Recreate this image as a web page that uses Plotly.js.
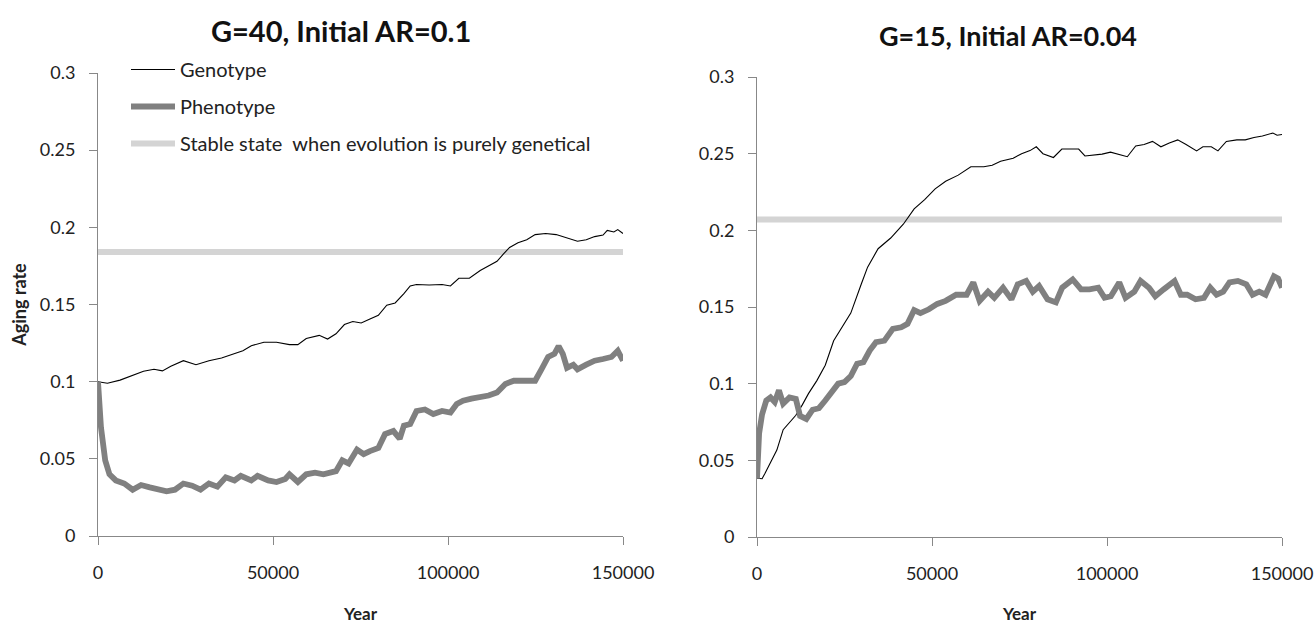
<!DOCTYPE html>
<html>
<head>
<meta charset="utf-8">
<script src="https://cdn.plot.ly/plotly-3.0.1.min.js"></script>
<style>html,body{margin:0;padding:0;background:#fff;}#chart{width:1315px;height:624px;}</style>
</head>
<body>
<div id="chart"></div>
<script>
// ---- Left panel: G=40, Initial AR=0.1 ----
const leftGenoX = [0,2700,6300,9900,13000,16000,18400,20800,24400,28000,31700,35300,39000,41400,43800,47400,51000,54700,57100,59500,63200,65600,68000,70400,72800,75200,77700,80100,82500,84900,87400,89200,91000,94600,98300,100700,103100,106100,109200,111600,114000,115800,117600,120000,122500,124900,127900,130900,134000,137000,139500,141900,144300,145500,147400,148500,150000];
const leftGenoY = [0.100,0.099,0.101,0.104,0.1067,0.108,0.107,0.110,0.1136,0.111,0.1136,0.1153,0.118,0.120,0.1233,0.1255,0.1255,0.124,0.124,0.128,0.130,0.1276,0.131,0.137,0.139,0.138,0.1406,0.143,0.1495,0.151,0.157,0.162,0.163,0.1626,0.163,0.162,0.167,0.167,0.172,0.175,0.178,0.1826,0.187,0.190,0.192,0.1953,0.196,0.1953,0.193,0.191,0.192,0.194,0.195,0.198,0.197,0.1985,0.196];

const leftPhenoX = [0,850,2060,3270,5080,7500,9900,12300,14800,17200,19600,22000,24400,26900,29300,31700,34100,36500,39000,40800,43800,45600,48600,51000,53500,54700,57100,59500,62000,64400,66800,68000,69800,71600,74000,75900,77700,80100,82000,84400,86200,87400,89200,91000,93400,95800,98300,100700,102500,104300,106700,109200,111600,114000,116400,118800,121900,124900,126700,128600,130400,131600,132800,134000,135800,137000,139500,141900,144300,146700,148500,150000];
const leftPhenoY = [0.100,0.0704,0.049,0.040,0.036,0.034,0.030,0.033,0.0315,0.030,0.029,0.030,0.034,0.0326,0.030,0.034,0.032,0.038,0.036,0.039,0.036,0.039,0.036,0.035,0.037,0.040,0.035,0.040,0.041,0.040,0.041,0.042,0.049,0.047,0.056,0.053,0.055,0.057,0.066,0.068,0.063,0.0715,0.0725,0.081,0.082,0.079,0.081,0.080,0.0855,0.0877,0.089,0.090,0.091,0.093,0.0985,0.1006,0.1006,0.1006,0.108,0.116,0.118,0.123,0.118,0.109,0.111,0.108,0.111,0.1136,0.1147,0.116,0.120,0.1136];

const stableX = [0,150000];
const leftStableY = [0.184,0.184];

// ---- Right panel: G=15, Initial AR=0.04 ----
const rightGenoX = [0,1450,2300,3860,5670,7480,9290,11100,12900,14700,17100,19500,21900,24400,26800,29800,31600,34600,38200,41800,44900,47900,50900,53900,57500,61100,64800,67200,69600,73200,75600,78000,79800,81700,84700,87100,90100,91900,93700,96100,98600,101000,103400,105800,108200,110600,113000,115400,117800,120200,122600,125600,127400,129800,131700,134100,137100,139500,142000,144400,147400,148600,150000];
const rightGenoY = [0.0383,0.038,0.0416,0.049,0.0567,0.070,0.075,0.0794,0.086,0.0935,0.102,0.112,0.128,0.137,0.146,0.165,0.176,0.188,0.195,0.204,0.214,0.220,0.227,0.232,0.236,0.2415,0.2415,0.2425,0.245,0.247,0.250,0.252,0.2545,0.250,0.2475,0.253,0.253,0.253,0.2485,0.249,0.2497,0.251,0.2497,0.248,0.255,0.256,0.258,0.2545,0.257,0.259,0.256,0.2518,0.2545,0.2545,0.2518,0.258,0.259,0.259,0.2605,0.2615,0.2635,0.262,0.2625];

const rightPhenoX = [0,600,1450,2650,3860,5070,6270,7480,9290,11100,12300,14100,15900,17700,19500,21300,23200,25000,26800,28600,30400,32200,34000,36400,38800,41200,43000,44900,46700,49100,51500,53900,56900,59900,61800,63600,66000,67800,70300,72700,74500,76900,78800,80600,83000,85400,87200,90200,92600,95000,97500,99300,101100,103500,105300,107800,109600,112000,113800,116200,119300,121100,122900,125300,127700,129500,131300,133200,135000,137400,139800,141600,143500,145300,147700,148900,150000];
const rightPhenoY = [0.038,0.0675,0.080,0.089,0.091,0.088,0.0957,0.087,0.091,0.090,0.079,0.077,0.083,0.084,0.089,0.0946,0.100,0.101,0.105,0.113,0.114,0.1216,0.127,0.128,0.1357,0.1368,0.139,0.148,0.146,0.1485,0.152,0.154,0.158,0.158,0.166,0.154,0.160,0.156,0.1626,0.155,0.1648,0.167,0.160,0.1637,0.155,0.153,0.1626,0.168,0.1615,0.1615,0.1626,0.156,0.157,0.166,0.156,0.160,0.167,0.1626,0.157,0.1615,0.167,0.158,0.158,0.155,0.156,0.1626,0.158,0.160,0.166,0.167,0.1648,0.158,0.160,0.158,0.170,0.1685,0.1626];
const rightStableY = [0.207,0.207];

const seriesNames = ['Genotype','Phenotype','Stable state  when evolution is purely genetical'];
const leftTitle = 'G=40, Initial AR=0.1';
const rightTitle = 'G=15, Initial AR=0.04';
const xTicks = [0,50000,100000,150000];
const yTicks = [0,0.05,0.1,0.15,0.2,0.25,0.3];
const yTickText = ['0','0.05','0.1','0.15','0.2','0.25','0.3'];

const FONT = 'Lato, "Open Sans", sans-serif';
const genoLine = {color:'#000000', width:1.1};
const phenoLine = {color:'#808080', width:5.8};
const stableLine = {color:'#d4d4d4', width:6};

const traces = [
  {x:stableX, y:leftStableY, xaxis:'x', yaxis:'y', mode:'lines', line:stableLine, name:seriesNames[2], legendgroup:'g3', legendrank:3, showlegend:true},
  {x:leftGenoX, y:leftGenoY, xaxis:'x', yaxis:'y', mode:'lines', line:genoLine, name:seriesNames[0], legendgroup:'g1', legendrank:1, showlegend:true},
  {x:leftPhenoX, y:leftPhenoY, xaxis:'x', yaxis:'y', mode:'lines', line:phenoLine, name:seriesNames[1], legendgroup:'g2', legendrank:2, showlegend:true},
  {x:stableX, y:rightStableY, xaxis:'x2', yaxis:'y2', mode:'lines', line:stableLine, name:seriesNames[2], showlegend:false},
  {x:rightGenoX, y:rightGenoY, xaxis:'x2', yaxis:'y2', mode:'lines', line:genoLine, name:seriesNames[0], showlegend:false},
  {x:rightPhenoX, y:rightPhenoY, xaxis:'x2', yaxis:'y2', mode:'lines', line:phenoLine, name:seriesNames[1], showlegend:false}
];

const axisCommon = {
  showgrid:false, zeroline:false, showline:true, linecolor:'#888888', linewidth:1,
  ticks:'outside', ticklen:8, tickcolor:'#888888', tickwidth:1,
  tickfont:{family:FONT, size:18, color:'#222222'}
};
const xCommon = Object.assign({}, axisCommon, {range:[0,150000], tickvals:xTicks, ticktext:xTicks.map(String), ticklabelstandoff:12});
const yCommon = Object.assign({}, axisCommon, {range:[0,0.3], tickvals:yTicks, ticktext:yTickText, ticklabelstandoff:10});

const layout = {
  width:1315, height:624,
  margin:{l:0,r:0,t:0,b:0},
  paper_bgcolor:'#ffffff', plot_bgcolor:'#ffffff',
  font:{family:FONT, color:'#222222'},
  showlegend:true,
  legend:{x:126/1315, y:1-50/624, xanchor:'left', yanchor:'top', bgcolor:'rgba(0,0,0,0)', itemwidth:44,
          font:{family:FONT, size:20, color:'#222222'}, tracegroupgap:8, traceorder:'grouped'},
  xaxis: Object.assign({}, xCommon, {domain:[98/1315, 623/1315], anchor:'y',
          title:{text:'<b>Year</b>', font:{family:FONT, size:17, color:'#222222'}, standoff:27}}),
  yaxis: Object.assign({}, yCommon, {domain:[1-536/624, 1-73/624], anchor:'x',
          title:{text:'<b>Aging rate</b>', font:{family:FONT, size:18, color:'#222222'}, standoff:8}}),
  xaxis2: Object.assign({}, xCommon, {domain:[757/1315, 1282/1315], anchor:'y2',
          title:{text:'<b>Year</b>', font:{family:FONT, size:17, color:'#222222'}, standoff:30}}),
  yaxis2: Object.assign({}, yCommon, {domain:[1-537/624, 1-77/624], anchor:'x2'}),
  annotations:[
    {text:'<b>'+leftTitle+'</b>', xref:'paper', yref:'paper', x:341/1315, y:1-30/624, xanchor:'center', yanchor:'middle', showarrow:false, font:{family:FONT, size:29, color:'#111111'}},
    {text:'<b>'+rightTitle+'</b>', xref:'paper', yref:'paper', x:1008/1315, y:1-35/624, xanchor:'center', yanchor:'middle', showarrow:false, font:{family:FONT, size:27, color:'#111111'}}
  ]
};

Plotly.newPlot('chart', traces, layout, {displayModeBar:false, staticPlot:true});
</script>
</body>
</html>
